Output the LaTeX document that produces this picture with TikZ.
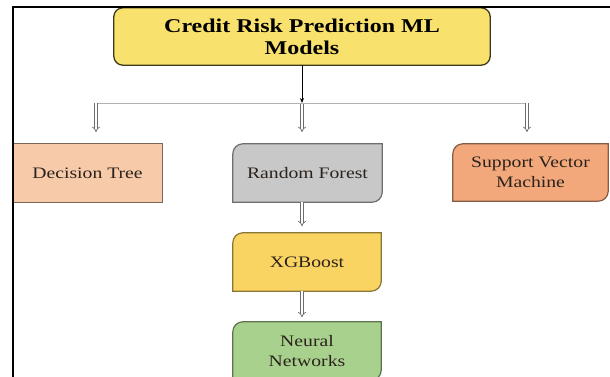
\documentclass[tikz,border=0pt]{standalone}
\usepackage{fontspec}
\setmainfont{Liberation Serif}
\newfontfamily\bodyfont[FakeStretch=1.23]{Liberation Serif}
\usetikzlibrary{arrows.meta,backgrounds}
\definecolor{titlefill}{HTML}{F9E16E}
\definecolor{dtfill}{HTML}{F7CAAA}
\definecolor{rffill}{HTML}{C8C8C8}
\definecolor{svmfill}{HTML}{F2A87B}
\definecolor{xgfill}{HTML}{FAD462}
\definecolor{nnfill}{HTML}{A9D18E}
\definecolor{txt}{HTML}{2A221C}
\tikzset{
  box/.style={inner sep=0pt, align=center, text=txt,
    font=\bodyfont\fontsize{16}{20}\selectfont},
  hollow/.style={draw=gray!85!black, line width=0.7pt, double=white,
    double distance=2pt, -{Implies[length=4pt]}},
  link/.style={draw=black, line width=0.8pt, -{Stealth[length=5pt,width=4pt]}},
  busline/.style={draw=gray!60, line width=0.8pt},
}
% leaf shape: rounded top-left and bottom-right corners
\newcommand{\leafbox}[3]{% node, fill, radius
  \fill[#2] ([yshift=-#3]#1.north west) arc[start angle=180,end angle=90,radius=#3]
    -- (#1.north east) -- ([yshift=#3]#1.south east)
    arc[start angle=0,end angle=-90,radius=#3] -- (#1.south west) -- cycle;
  \draw[#2!55!black, line width=1.2pt] ([yshift=-#3]#1.north west) arc[start angle=180,end angle=90,radius=#3]
    -- (#1.north east) -- ([yshift=#3]#1.south east)
    arc[start angle=0,end angle=-90,radius=#3] -- (#1.south west) -- cycle;}
\begin{document}
\begin{tikzpicture}[x=1pt,y=1pt]
\clip (0,0) rectangle (610,377);
\useasboundingbox (0,0) rectangle (610,377);
% frame
\draw[black, line width=1.6pt] (13,-2) -- (13,370) -- (612,370);
% title
\node[box, minimum width=376pt, minimum height=57pt,
  font=\bodyfont\bfseries\fontsize{19.5}{22}\selectfont, text=black]
  (title) at (302,340.5) {Credit Risk Prediction ML\\Models};
% level 1
\node[box, minimum width=149pt, minimum height=58pt] (dt) at (87.5,204) {Decision Tree};
\node[box, minimum width=149pt, minimum height=58pt] (rf) at (307.5,204) {Random Forest};
\node[box, minimum width=155pt, minimum height=57pt] (svm) at (530.5,204.5) {Support Vector\\Machine};
% chain
\node[box, minimum width=148pt, minimum height=58pt] (xg) at (307,115) {XGBoost};
\node[box, minimum width=148pt, minimum height=58pt] (nn) at (307,26) {Neural\\Networks};
\begin{pgfonlayer}{background}
  \draw[fill=titlefill, draw=black!75!titlefill, line width=1.3pt, rounded corners=9pt]
    (title.south west) rectangle (title.north east);
  \draw[fill=dtfill, draw=dtfill!50!black, line width=1.2pt]
    (dt.south west) rectangle (dt.north east);
  \leafbox{rf}{rffill}{10pt}
  \leafbox{svm}{svmfill}{10pt}
  \leafbox{xg}{xgfill}{10pt}
  \leafbox{nn}{nnfill}{10pt}
\end{pgfonlayer}
% connectors
\coordinate (bus) at (302,274);
\coordinate (busL) at (96,274);
\coordinate (busR) at (527,274);
\draw[link] (title.south -| bus) -- (bus);
\draw[busline] (busL) -- (busR);
\draw[hollow] (busL) -- ([yshift=-29pt]busL);
\draw[hollow] ([yshift=-1pt]bus) -- ([yshift=-29pt]bus);
\draw[hollow] (busR) -- ([yshift=-29pt]busR);
\draw[hollow] (rf.south -| bus) -- ([yshift=-24pt]rf.south -| bus);
\draw[hollow] (xg.south -| bus) -- ([yshift=-26pt]xg.south -| bus);
\end{tikzpicture}
\end{document}
